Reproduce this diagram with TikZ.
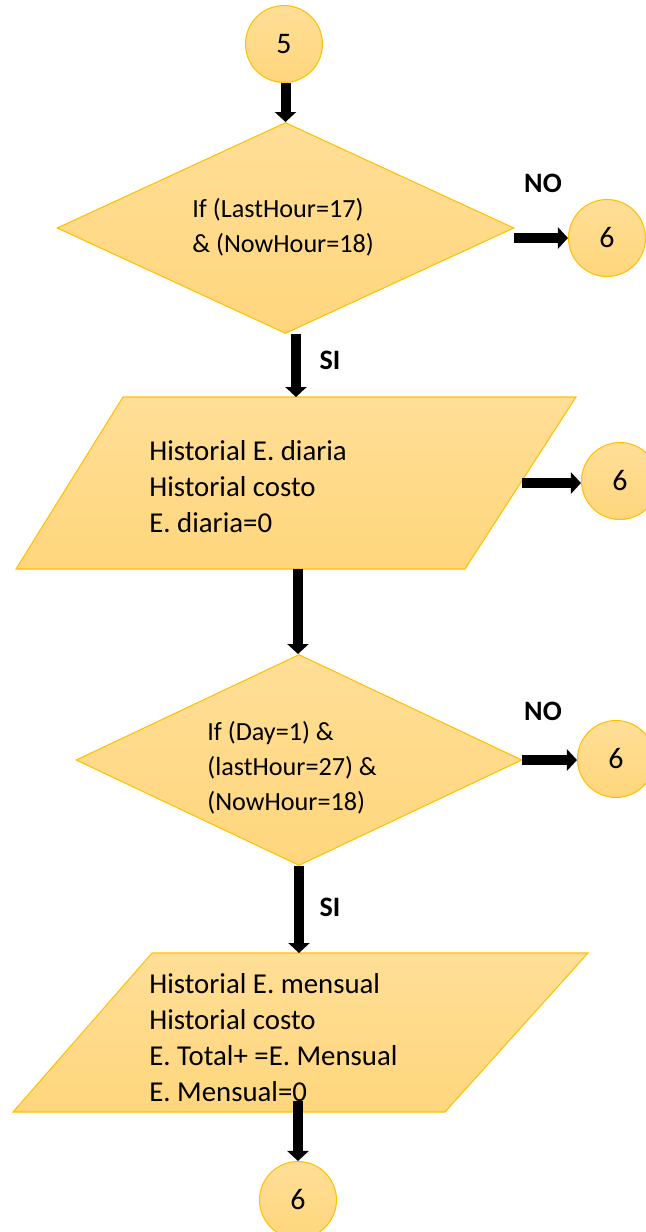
\documentclass[tikz,border=0pt]{standalone}
\usepackage{fontspec}
\setmainfont{Carlito}
\usetikzlibrary{arrows.meta,shapes.geometric}
\definecolor{boxfill}{RGB}{255,214,125}
\definecolor{boxtop}{RGB}{255,222,150}
\definecolor{boxline}{RGB}{255,192,0}

\begin{document}
\begin{tikzpicture}[
  x=0.02cm, y=-0.02cm,
  arr/.style={line width=0.2cm, black, -{Triangle[width=0.42cm,length=0.2cm]}},
  shp/.style={draw=boxline, line width=0.6pt, top color=boxtop, bottom color=boxfill, inner sep=0pt},
  con/.style={shp, circle, minimum size=1.54cm, font=\fontsize{17}{20}\selectfont},
  dec/.style={shp, diamond, minimum width=#1, minimum height=4.22cm},
  txt/.style={anchor=west, align=left, inner sep=0pt},
  big/.style={txt, font=\fontsize{16.4}{20.5}\selectfont},
  small/.style={txt, font=\fontsize{14.9}{20}\selectfont},
  lbl/.style={font=\bfseries\fontsize{16}{19}\selectfont},
]
\useasboundingbox (0,0) rectangle (646,1232);
\clip (0,0) rectangle (646,1232);

%% ====================================================
%% Connector 5 and first test
%% ====================================================
\node[con] (c5) at (284,44) {5};
\node[dec=9.14cm] (d1) at (285.5,228) {};
\node[small] (t1) at (192,227) {If (LastHour=17)\\\& (NowHour=18)};
\node[con] (c6a) at (607,238) {6};
\node[lbl] (no1) at (543,183) {NO};

%% ====================================================
%% Daily history
%% ====================================================
\draw[shp] (123,397) -- (576,397) -- (465,569) -- (16,569) -- cycle;
\coordinate (p1n) at (296,397);
\coordinate (p1s) at (298,569);
\coordinate (p1e) at (522,483);
\node[big] (t2) at (149,487) {Historial E. diaria\\Historial costo\\E. diaria=0};
\node[con] (c6b) at (620,481) {6};
\node[lbl] (si1) at (330,360) {SI};

%% ====================================================
%% Second test
%% ====================================================
\node[dec=8.92cm] (d2) at (299,760) {};
\node[small] (t3) at (207,768) {If (Day=1) \&\\(lastHour=27) \&\\(NowHour=18)};
\node[con] (c6c) at (616,759) {6};
\node[lbl] (no2) at (543,711) {NO};

%% ====================================================
%% Monthly history
%% ====================================================
\draw[shp] (152,953) -- (588,953) -- (445,1112) -- (13,1112) -- cycle;
\coordinate (p2n) at (299,953);
\coordinate (p2out) at (298,1101);
\node[big] (t4) at (149,1038) {Historial E. mensual\\Historial costo\\E. Total+ =E. Mensual\\E. Mensual=0};
\node[con] (c6d) at (298,1200) {6};
\node[lbl] (si2) at (330,907) {SI};

%% Arrows
\draw[arr] (c5.south -| d1.north) -- (d1.north);
\draw[arr] (d1.east |- c6a) -- (c6a);
\draw[arr] (d1.south -| p1n) -- (p1n);
\draw[arr] (p1e) -- (p1e -| c6b.west);
\draw[arr] (p1s) -- (p1s |- d2.north);
\draw[arr] (d2.east) -- (d2.east -| c6c.west);
\draw[arr] (d2.south -| p2n) -- (p2n);
\draw[arr] (p2out) -- (c6d);

\end{tikzpicture}
\end{document}
